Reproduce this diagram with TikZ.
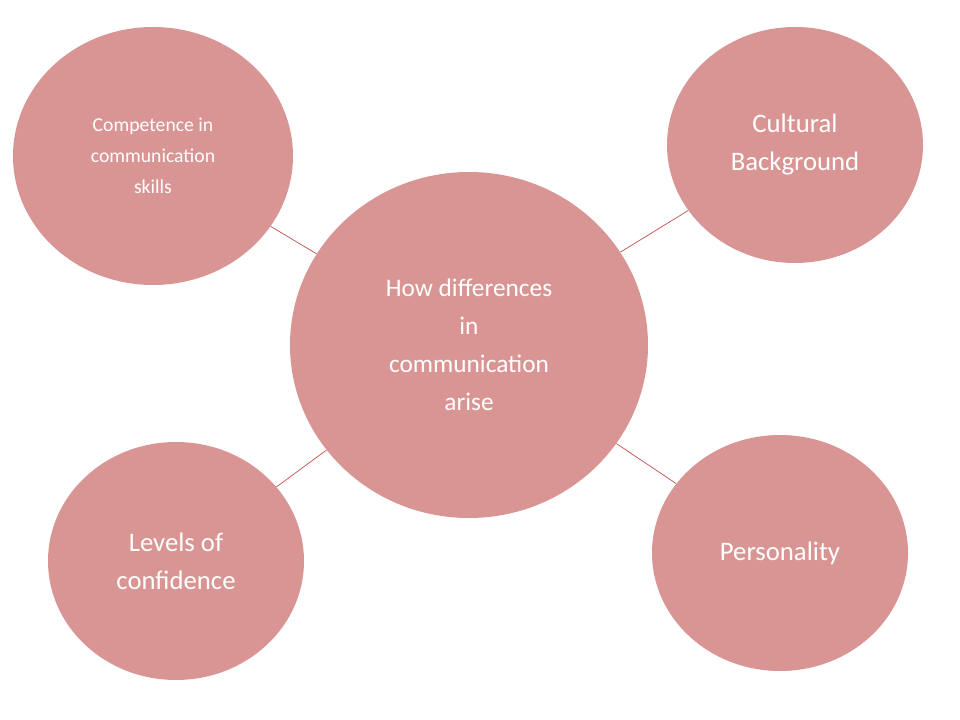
\documentclass[tikz,border=0pt]{standalone}
\usepackage{fontspec}
\setmainfont{Carlito}
\usetikzlibrary{shapes.geometric,backgrounds}
\definecolor{bubblefill}{HTML}{D99594}
\definecolor{linkline}{HTML}{C0504D}
\tikzset{
	bubble/.style={ellipse, fill=bubblefill, text=white, align=center, inner sep=0pt},
	link/.style={draw=linkline, line width=0.5pt}
}
\begin{document}
\begin{tikzpicture}[x=0.025cm, y=-0.025cm]

	\useasboundingbox (0,0) rectangle (960,720);

	\node (hub) [bubble, minimum width=358*0.025cm, minimum height=346*0.025cm, font=\fontsize{18}{27}\selectfont] at (469,345) {How differences\\in\\communication\\arise};
	\node (skills) [bubble, minimum width=280*0.025cm, minimum height=258*0.025cm, font=\fontsize{14}{22}\selectfont] at (153,156) {Competence in\\communication\\skills};
	\node (culture) [bubble, minimum width=256*0.025cm, minimum height=236*0.025cm, font=\fontsize{19}{27}\selectfont] at (795,145) {Cultural\\Background};
	\node (confidence) [bubble, minimum width=256*0.025cm, minimum height=238*0.025cm, font=\fontsize{19}{27}\selectfont] at (176,561) {Levels of\\confidence};
	\node (personality) [bubble, minimum width=256*0.025cm, minimum height=236*0.025cm, font=\fontsize{19}{27}\selectfont] at (780,553) {Personality};

	\begin{scope}[on background layer]
		\path[link] (hub) -- (skills);
		\path[link] (hub) -- (culture);
		\path[link] (hub) -- (confidence);
		\path[link] (hub) -- (personality);
	\end{scope}

\end{tikzpicture}
\end{document}
